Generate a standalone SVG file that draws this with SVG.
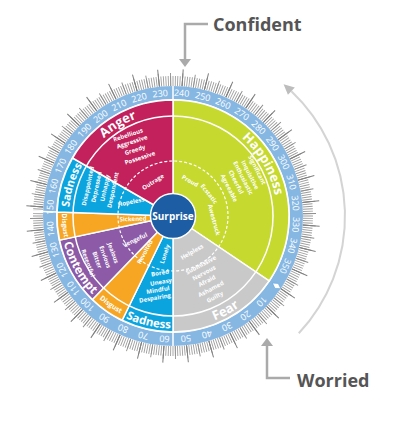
<svg xmlns="http://www.w3.org/2000/svg" width="399" height="424" viewBox="0 0 399 424">
<style>
.lbl{font-family:"Open Sans","Liberation Sans",sans-serif;font-weight:700;fill:#fff;text-anchor:middle;dominant-baseline:central}
.big{font-family:"Open Sans","Liberation Sans",sans-serif;font-weight:700;fill:#fff;text-anchor:middle}
.w{font-size:6px}
.num{font-family:"Open Sans","Liberation Sans",sans-serif;font-size:9px;fill:#fff;text-anchor:middle;dominant-baseline:central}
.seg{stroke:#fff;stroke-width:1.5}
.cap{font-family:"Open Sans","Liberation Sans",sans-serif;font-weight:700;fill:#555;font-size:18px}
</style>
<defs>
<path id="pAnger" d="M82.93,164 A104,104 0 0 1 169.37,112.06"/>
<path id="pHap" d="M208.57,118.27 A104,104 0 0 1 275.42,234.06"/>
<path id="pFear" d="M182.80,328.07 A112.5,112.5 0 0 0 262.85,283.70"/>
<path id="pSadB" d="M125.46,317.96 A112.5,112.5 0 0 0 171.04,328.48"/>
<path id="pDisB" d="M96.03,295.70 A110.8,110.8 0 0 0 124.43,315.59"/>
<path id="pCon" d="M62.96,239.39 A112.5,112.5 0 0 0 94.85,296.92"/>
<path id="pDisU" d="M62.27,212.13 A110.8,110.8 0 0 0 64.62,239.04"/>
<path id="pSadU" d="M69.06,212.37 A104,104 0 0 1 84.80,160.89"/>
</defs>
<rect width="399" height="424" fill="#fff"/>

<g id="dial">
<circle cx="173" cy="216" r="135" fill="none" stroke="#9c9c9c" stroke-width="10" pathLength="360" stroke-dasharray="0.38 0.62" stroke-dashoffset="0.19"/>
<circle cx="173" cy="216" r="136.5" fill="none" stroke="#8f8f8f" stroke-width="13" pathLength="360" stroke-dasharray="0.38 4.62" stroke-dashoffset="-3.81"/>
<circle cx="173" cy="216" r="138.5" fill="none" stroke="#808080" stroke-width="17" pathLength="360" stroke-dasharray="0.42 9.58" stroke-dashoffset="-3.79"/>
<circle cx="173" cy="216" r="123.5" fill="none" stroke="#86b7e3" stroke-width="13"/>
<g class="num">
<text x="173" y="92.5" transform="rotate(134 173 216)">10</text>
<text x="173" y="92.5" transform="rotate(144 173 216)">20</text>
<text x="173" y="92.5" transform="rotate(154 173 216)">30</text>
<text x="173" y="92.5" transform="rotate(164 173 216)">40</text>
<text x="173" y="92.5" transform="rotate(174 173 216)">50</text>
<text x="173" y="92.5" transform="rotate(184 173 216)">60</text>
<text x="173" y="92.5" transform="rotate(194 173 216)">70</text>
<text x="173" y="92.5" transform="rotate(204 173 216)">80</text>
<text x="173" y="92.5" transform="rotate(214 173 216)">90</text>
<text x="173" y="92.5" transform="rotate(224 173 216)">100</text>
<text x="173" y="92.5" transform="rotate(234 173 216)">110</text>
<text x="173" y="92.5" transform="rotate(244 173 216)">120</text>
<text x="173" y="92.5" transform="rotate(254 173 216)">130</text>
<text x="173" y="92.5" transform="rotate(264 173 216)">140</text>
<text x="173" y="92.5" transform="rotate(274 173 216)">150</text>
<text x="173" y="92.5" transform="rotate(284 173 216)">160</text>
<text x="173" y="92.5" transform="rotate(294 173 216)">170</text>
<text x="173" y="92.5" transform="rotate(304 173 216)">180</text>
<text x="173" y="92.5" transform="rotate(314 173 216)">190</text>
<text x="173" y="92.5" transform="rotate(324 173 216)">200</text>
<text x="173" y="92.5" transform="rotate(334 173 216)">210</text>
<text x="173" y="92.5" transform="rotate(344 173 216)">220</text>
<text x="173" y="92.5" transform="rotate(354 173 216)">230</text>
<text x="173" y="92.5" transform="rotate(4 173 216)">240</text>
<text x="173" y="92.5" transform="rotate(14 173 216)">250</text>
<text x="173" y="92.5" transform="rotate(24 173 216)">260</text>
<text x="173" y="92.5" transform="rotate(34 173 216)">270</text>
<text x="173" y="92.5" transform="rotate(44 173 216)">280</text>
<text x="173" y="92.5" transform="rotate(54 173 216)">290</text>
<text x="173" y="92.5" transform="rotate(64 173 216)">300</text>
<text x="173" y="92.5" transform="rotate(74 173 216)">310</text>
<text x="173" y="92.5" transform="rotate(84 173 216)">320</text>
<text x="173" y="92.5" transform="rotate(94 173 216)">330</text>
<text x="173" y="92.5" transform="rotate(104 173 216)">340</text>
<text x="173" y="92.5" transform="rotate(114 173 216)">350</text>
</g>
<g stroke="#fff" stroke-width="1.5">
<line x1="173" y1="100" x2="173" y2="86"/>
<line x1="173" y1="332" x2="173" y2="346"/>
<line x1="57.07" y1="211.95" x2="26" y2="210.9"/>
</g>
<polygon points="280.75,288.7 274.92,288.39 272.45,283.1 278.28,283.41" fill="#fff" stroke="#5d9fd8" stroke-width="0.6"/>
</g>

<g id="wheel">
<g id="happiness"><path class="seg" fill="#c6d92f" d="M173,216 L173,100 A116,116 0 0 1 269.16,280.87 Z"/></g>
<g id="fear"><path class="seg" fill="#c9c9c9" d="M173,216 L269.16,280.87 A116,116 0 0 1 173,332 Z"/></g>
<g id="sadness-lower"><path class="seg" fill="#0ca4de" d="M173,216 L173,332 A116,116 0 0 1 122.15,320.26 Z"/></g>
<g id="disgust-lower"><path class="seg" fill="#f6a623" d="M173,216 L122.15,320.26 A116,116 0 0 1 92.41,299.44 Z"/></g>
<g id="contempt"><path class="seg" fill="#8c5aa6" d="M173,216 L92.41,299.44 A116,116 0 0 1 59.54,240.12 Z"/></g>
<g id="disgust-upper"><path class="seg" fill="#f6a623" d="M173,216 L59.54,240.12 A116,116 0 0 1 57.07,211.95 Z"/></g>
<g id="sadness-upper"><path class="seg" fill="#0ca4de" d="M173,216 L57.07,211.95 A116,116 0 0 1 72.54,158 Z"/></g>
<g id="anger"><path class="seg" fill="#c2215c" d="M173,216 L72.54,158 A116,116 0 0 1 173,100 Z"/></g>
<circle cx="173" cy="216" r="100" fill="none" stroke="#fff" stroke-width="1.5"/>
<circle cx="173" cy="216" r="55" fill="none" stroke="#fff" stroke-width="1.2" stroke-dasharray="3 2"/>
</g>

<g id="band-labels">
<text class="big" font-size="13"><textPath href="#pAnger" startOffset="50%">Anger</textPath></text>
<text class="big" font-size="13"><textPath href="#pHap" startOffset="50%">Happiness</textPath></text>
<text class="big" font-size="13"><textPath href="#pFear" startOffset="50%">Fear</textPath></text>
<text class="big" font-size="11.5"><textPath href="#pSadB" startOffset="50%">Sadness</textPath></text>
<text class="big" font-size="7"><textPath href="#pDisB" startOffset="50%">Disgust</textPath></text>
<text class="big" font-size="12"><textPath href="#pCon" startOffset="50%">Contempt</textPath></text>
<text class="big" font-size="6.5"><textPath href="#pDisU" startOffset="50%">Disgust</textPath></text>
<text class="big" font-size="11"><textPath href="#pSadU" startOffset="50%">Sadness</textPath></text>
</g>

<g id="words" class="lbl w">
<text transform="translate(128,135) rotate(-18)">Rebellious</text>
<text transform="translate(132,142) rotate(-18)">Aggressive</text>
<text transform="translate(135,150) rotate(-18)">Greedy</text>
<text transform="translate(140,158) rotate(-18)">Possessive</text>
<text transform="translate(153,182) rotate(-32)">Outrage</text>
<text transform="translate(257,170) rotate(63)">Significant</text>
<text transform="translate(250,175) rotate(63)">Inquisitive</text>
<text transform="translate(243,178) rotate(63)">Enthusiastic</text>
<text transform="translate(236,182) rotate(63)">Cheerful</text>
<text transform="translate(229,188) rotate(63)">Agreeable</text>
<text transform="translate(190,181) rotate(30)">Proud</text>
<text transform="translate(209,194) rotate(52)">Ecstatic</text>
<text transform="translate(214,220) rotate(75)">Awestruck</text>
<text transform="translate(88,186) rotate(-78)">Disappointed</text>
<text transform="translate(96.5,187) rotate(-78)">Depressed</text>
<text transform="translate(105,188) rotate(-78)">Unhappy</text>
<text transform="translate(113,190) rotate(-78)">Despondent</text>
<text transform="translate(131,202) rotate(-12)">Hopeless</text>
<text transform="translate(133,219) rotate(-2)">Sickened</text>
<text transform="translate(113,253) rotate(70)">Jealous</text>
<text transform="translate(105,257) rotate(70)">Envious</text>
<text transform="translate(97,260) rotate(70)">Bitter</text>
<text transform="translate(88,263) rotate(70)">Resentful</text>
<text transform="translate(135,240) rotate(-25)">Vengeful</text>
<text transform="translate(145,252) rotate(-62)">Revolted</text>
<text transform="translate(165,254) rotate(-72)">Lonely</text>
<text transform="translate(160,273) rotate(-10)">Bored</text>
<text transform="translate(161,282) rotate(-10)">Uneasy</text>
<text transform="translate(158,290) rotate(-10)">Mindful</text>
<text transform="translate(155,298) rotate(-10)">Despairing</text>
<text transform="translate(192,252) rotate(-30)">Helpless</text>
<text transform="translate(201,265) rotate(-28)">Submissive</text>
<text transform="translate(204,273) rotate(-28)">Nervous</text>
<text transform="translate(207,281) rotate(-28)">Afraid</text>
<text transform="translate(211,289) rotate(-28)">Ashamed</text>
<text transform="translate(215,297) rotate(-28)">Guilty</text>
</g>

<g id="surprise">
<circle cx="173" cy="216" r="22.5" fill="#1c5da4" stroke="#fff" stroke-width="1.5"/>
<text class="lbl" x="173" y="216" font-size="10">Surprise</text>
</g>

<g id="connectors">
<polyline points="208,24 185,24 185,60" fill="none" stroke="#aaa" stroke-width="2.5"/>
<polygon points="179,59 191,59 185,67" fill="#aaa"/>
<polyline points="290,378 267,378 267,345" fill="none" stroke="#aaa" stroke-width="2.5"/>
<polygon points="261,346 273,346 267,338" fill="#aaa"/>
<path d="M298.8,333.3 A172,172 0 0 0 291.39,91.23" fill="none" stroke="#d4d4d4" stroke-width="2"/>
<polygon points="283.56,84.24 294.83,87.6 287.95,94.86" fill="#bdbdbd"/>
</g>

<g id="confident"><text class="cap" x="213" y="31">Confident</text></g>
<g id="worried"><text class="cap" x="297" y="387">Worried</text></g>
</svg>
